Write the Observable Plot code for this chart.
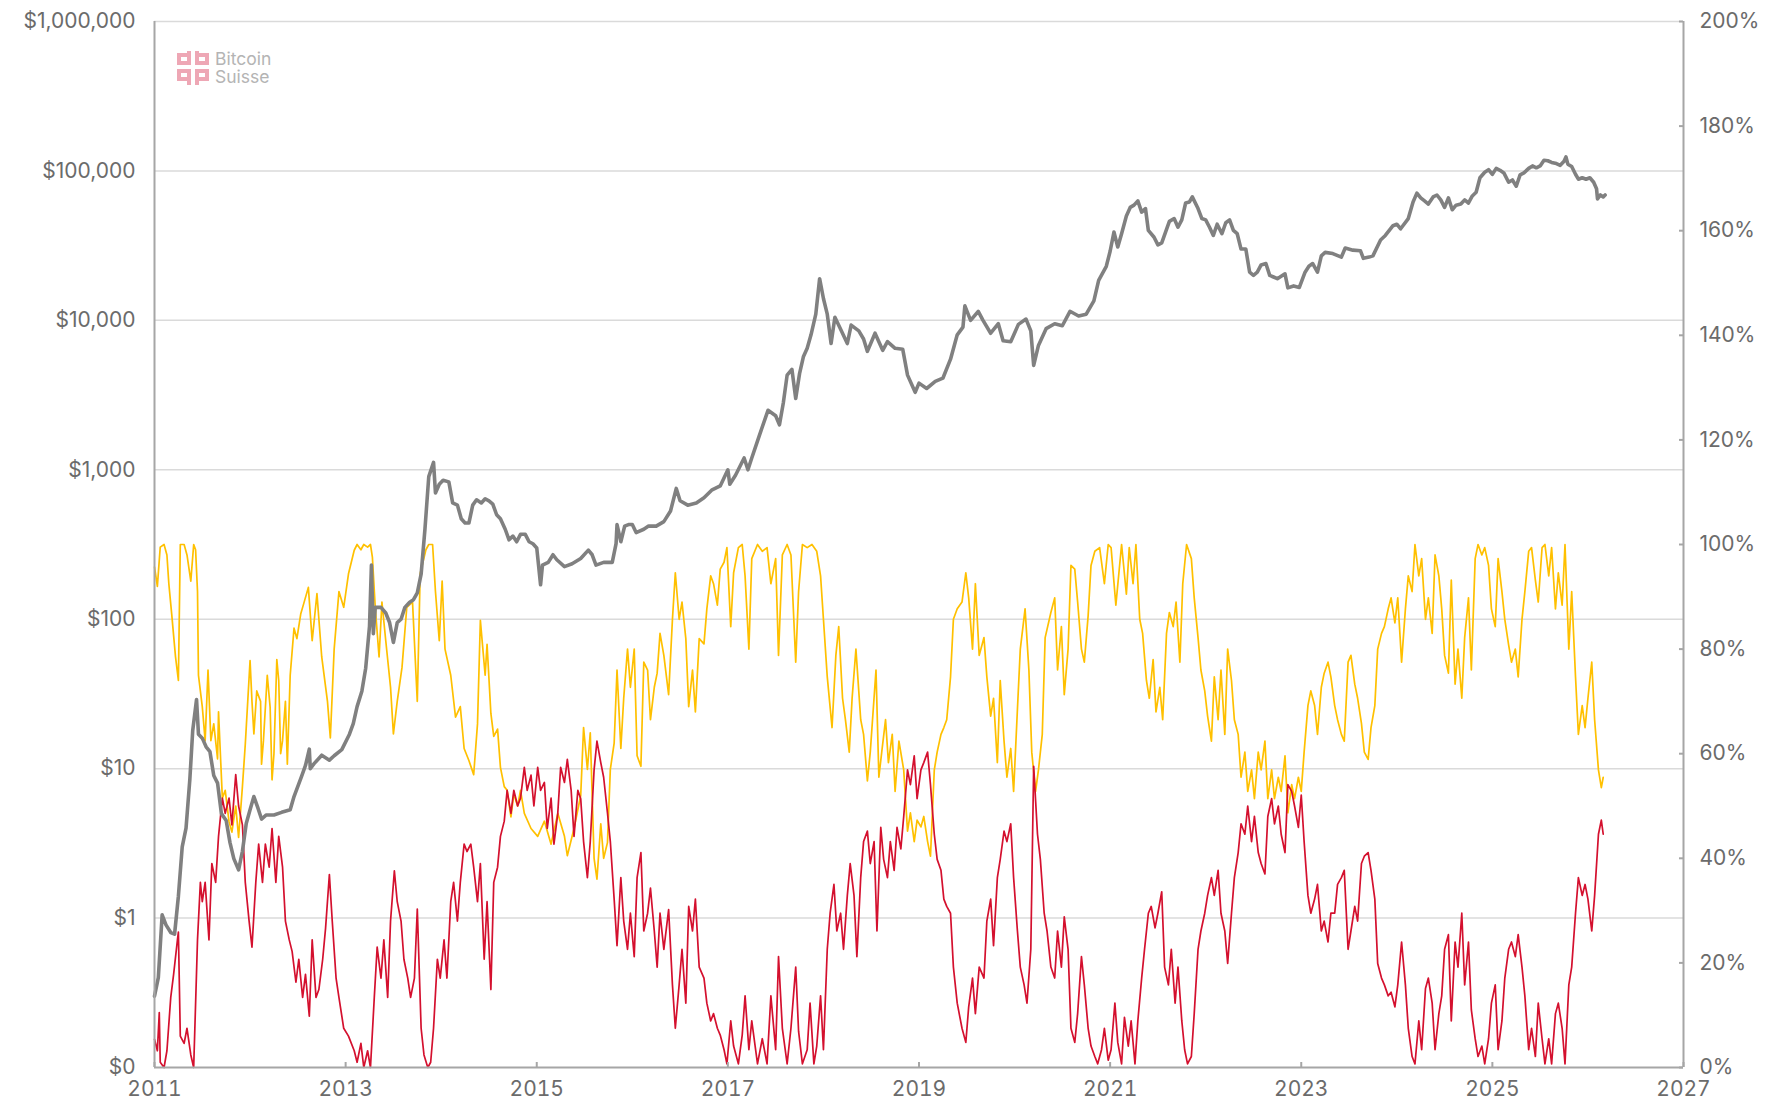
<!DOCTYPE html>
<html><head><meta charset="utf-8">
<script src="https://cdn.jsdelivr.net/npm/d3@7"></script>
<script src="https://cdn.jsdelivr.net/npm/@observablehq/plot@0.6"></script>
<style>
html,body{margin:0;padding:0;background:#fff;}
#wrap{position:relative;width:1787px;height:1101px;}
#logo{position:absolute;left:177px;top:50px;display:flex;align-items:center;gap:4px;font-family:Inter,"Noto Sans",sans-serif;color:#b4b4b4;font-size:17.5px;}
#logo .t div{height:18px;line-height:18px;}
</style></head><body>
<div id="wrap"><div id="chart"></div>
<div id="logo"><svg width="34" height="36" viewBox="0 0 34 36"><g fill="none" stroke="#eea7b5" stroke-width="4"><rect x="2" y="5" width="10" height="8"/><rect x="20" y="5" width="10" height="8"/><line x1="12" y1="1" x2="12" y2="13"/><line x1="20" y1="1" x2="20" y2="13"/><rect x="2" y="21" width="10" height="8"/><rect x="20" y="21" width="10" height="8"/><line x1="12" y1="21" x2="12" y2="35"/><line x1="20" y1="21" x2="20" y2="35"/></g></svg><div class="t"><div>Bitcoin</div><div>Suisse</div></div></div>
</div>
<script>
// ---- axis ticks ----
const yearTicks = [2011, 2013, 2015, 2017, 2019, 2021, 2023, 2025, 2027];
const priceTicks = [0.1, 1, 10, 100, 1000, 10000, 100000, 1000000];
const priceTickLabels = ["$0", "$1", "$10", "$100", "$1,000", "$10,000", "$100,000", "$1,000,000"];
const pctTicks = [0, 20, 40, 60, 80, 100, 120, 140, 160, 180, 200];

// ---- BTC price (USD, log axis) ----
const priceYears = [
2011.00,2011.04,2011.08,2011.12,2011.17,2011.21,2011.25,2011.29,2011.33,2011.37,2011.40,2011.44,2011.46,2011.50,2011.54,2011.58,2011.62,2011.66,2011.70,2011.75,2011.79,2011.83,2011.88,2011.92,2011.96,
2012.00,2012.04,2012.08,2012.12,2012.17,2012.25,2012.33,2012.42,2012.46,2012.54,2012.58,2012.62,2012.63,2012.67,2012.75,2012.83,2012.88,2012.96,
2013.04,2013.08,2013.12,2013.17,2013.21,2013.25,2013.27,2013.29,2013.31,2013.37,2013.42,2013.46,2013.50,2013.54,2013.58,2013.62,2013.67,2013.71,2013.75,2013.79,2013.83,2013.87,2013.92,2013.94,2013.98,
2014.02,2014.08,2014.12,2014.17,2014.21,2014.25,2014.29,2014.33,2014.37,2014.42,2014.46,2014.50,2014.54,2014.58,2014.62,2014.67,2014.71,2014.75,2014.79,2014.83,2014.88,2014.92,2014.96,
2015.00,2015.04,2015.06,2015.12,2015.17,2015.21,2015.29,2015.37,2015.46,2015.54,2015.58,2015.62,2015.70,2015.79,2015.83,2015.84,2015.88,2015.92,2015.96,
2016.00,2016.04,2016.12,2016.17,2016.25,2016.33,2016.40,2016.46,2016.50,2016.58,2016.67,2016.75,2016.83,2016.92,
2017.00,2017.02,2017.08,2017.17,2017.21,2017.25,2017.33,2017.42,2017.50,2017.54,2017.58,2017.62,2017.67,2017.71,2017.75,2017.79,2017.83,2017.87,2017.92,2017.96,
2018.00,2018.04,2018.08,2018.12,2018.17,2018.25,2018.29,2018.37,2018.42,2018.46,2018.54,2018.62,2018.67,2018.75,2018.83,2018.88,2018.96,
2019.00,2019.08,2019.17,2019.25,2019.33,2019.40,2019.46,2019.48,2019.54,2019.62,2019.67,2019.75,2019.83,2019.88,2019.96,
2020.04,2020.12,2020.17,2020.20,2020.25,2020.33,2020.42,2020.50,2020.58,2020.67,2020.75,2020.83,2020.88,2020.96,
2021.00,2021.04,2021.08,2021.12,2021.17,2021.21,2021.25,2021.29,2021.33,2021.37,2021.40,2021.46,2021.50,2021.54,2021.58,2021.62,2021.67,2021.71,2021.75,2021.79,2021.83,2021.86,2021.92,2021.96,
2022.00,2022.04,2022.08,2022.12,2022.17,2022.21,2022.25,2022.29,2022.33,2022.37,2022.42,2022.46,2022.50,2022.54,2022.58,2022.63,2022.67,2022.71,2022.75,2022.83,2022.86,2022.92,2022.98,
2023.04,2023.08,2023.12,2023.17,2023.21,2023.25,2023.33,2023.42,2023.46,2023.54,2023.62,2023.65,2023.71,2023.75,2023.83,2023.88,2023.96,
2024.00,2024.04,2024.12,2024.17,2024.21,2024.25,2024.29,2024.33,2024.38,2024.42,2024.46,2024.50,2024.54,2024.58,2024.62,2024.67,2024.71,2024.75,2024.79,2024.83,2024.87,2024.92,2024.96,
2025.00,2025.04,2025.08,2025.12,2025.17,2025.21,2025.25,2025.29,2025.33,2025.38,2025.42,2025.46,2025.50,2025.54,2025.58,2025.62,2025.67,2025.71,2025.75,2025.77,2025.79,2025.83,2025.87,2025.90,2025.94,2025.98,
2026.02,2026.06,2026.09,2026.10,2026.13,2026.16,2026.18];
const priceUSD = [
0.30,0.40,1.05,0.90,0.80,0.78,1.4,3.0,4.0,8.5,18,29,17,16,14,13,9,8,5,4.5,3.2,2.5,2.1,2.8,4.3,
5.3,6.5,5.5,4.6,4.9,4.9,5.1,5.3,6.5,8.9,10.5,13.5,10,10.8,12.3,11.4,12.2,13.4,
17,20,26,33,47,90,230,80,120,120,110,95,70,95,100,120,130,135,150,200,400,900,1120,700,800,
850,830,600,580,470,440,440,580,630,600,640,620,590,500,470,400,340,360,330,370,370,330,320,
300,170,230,240,270,250,225,235,255,290,270,230,240,240,320,430,330,420,430,
430,380,400,420,420,450,530,750,620,580,600,650,730,780,
1000,800,920,1200,1000,1200,1700,2500,2300,2000,2800,4300,4700,3000,4400,5700,6500,8000,11000,19000,
14000,11000,7000,10500,9000,7000,9300,8500,7500,6200,8200,6300,7200,6500,6400,4300,3300,
3800,3500,3900,4100,5500,8000,9000,12500,10000,11500,10000,8200,9500,7300,7200,
9400,10200,8500,5000,6800,8800,9500,9200,11500,10700,11000,13500,18500,23000,
29000,39000,31000,38000,50000,57000,59000,63000,53000,56000,40000,36000,32000,33000,39000,46000,48000,42000,47000,61000,62000,67000,56000,48000,
47000,42000,37000,44000,38000,45000,47000,40000,38000,30000,30000,21000,20000,21000,23500,24000,20000,19500,19000,20500,16500,17000,16600,
21000,23000,24000,21000,27000,28500,28000,26500,30500,29500,29200,26000,26500,27000,34500,37000,43000,
44000,41000,48000,62000,71000,66000,63000,60000,67000,69000,64000,57000,66000,55000,59000,60000,64000,61000,68000,72000,90000,98000,102000,
95000,104000,101000,97000,84000,87000,79000,94000,97000,104000,108000,105000,108000,118000,117000,114000,112000,109000,116000,124000,111000,107000,95000,88000,90000,88000,
90000,84000,76000,65000,69000,67000,69000];

// ---- yellow series (% , right axis) ----
const profitYears = [
2011.00,2011.03,2011.06,2011.10,2011.13,2011.15,2011.18,2011.22,2011.25,2011.27,2011.31,2011.34,2011.38,2011.41,2011.43,2011.45,2011.46,2011.50,2011.53,2011.56,2011.59,2011.62,2011.66,2011.67,2011.71,2011.74,2011.78,2011.81,2011.85,2011.88,2011.92,2011.95,
2012.00,2012.02,2012.04,2012.07,2012.11,2012.12,2012.14,2012.18,2012.21,2012.23,2012.25,2012.28,2012.30,2012.32,2012.34,2012.37,2012.39,2012.42,2012.46,2012.49,2012.53,2012.56,2012.61,2012.65,2012.70,2012.75,2012.81,2012.84,2012.88,2012.93,2012.98,
2013.03,2013.09,2013.12,2013.16,2013.19,2013.23,2013.26,2013.28,2013.31,2013.35,2013.38,2013.42,2013.47,2013.50,2013.54,2013.59,2013.64,2013.70,2013.75,2013.78,2013.84,2013.87,2013.91,2013.94,2013.98,
2014.01,2014.04,2014.10,2014.15,2014.20,2014.24,2014.29,2014.34,2014.38,2014.41,2014.46,2014.48,2014.52,2014.55,2014.59,2014.62,2014.66,2014.69,2014.73,2014.76,2014.80,2014.83,2014.87,2014.94,
2015.01,2015.08,2015.15,2015.22,2015.29,2015.32,2015.39,2015.46,2015.49,2015.53,2015.56,2015.60,2015.63,2015.67,2015.70,2015.74,2015.77,2015.81,2015.84,2015.88,2015.91,2015.95,2015.98,
2016.02,2016.05,2016.09,2016.12,2016.16,2016.19,2016.23,2016.26,2016.29,2016.33,2016.38,2016.42,2016.45,2016.49,2016.52,2016.56,2016.59,2016.63,2016.66,2016.70,2016.75,2016.78,2016.82,2016.85,2016.89,2016.92,2016.96,2016.99,
2017.03,2017.06,2017.11,2017.15,2017.18,2017.22,2017.25,2017.31,2017.36,2017.41,2017.45,2017.50,2017.53,2017.57,2017.62,2017.66,2017.71,2017.74,2017.78,2017.83,2017.88,2017.93,2017.97,
2018.00,2018.04,2018.09,2018.13,2018.16,2018.20,2018.23,2018.27,2018.30,2018.34,2018.39,2018.42,2018.46,2018.49,2018.55,2018.58,2018.61,2018.65,2018.68,2018.72,2018.75,2018.79,2018.84,2018.88,2018.91,2018.95,2018.98,
2019.02,2019.05,2019.09,2019.12,2019.16,2019.19,2019.23,2019.26,2019.29,2019.33,2019.36,2019.40,2019.45,2019.49,2019.52,2019.56,2019.59,2019.63,2019.68,2019.71,2019.75,2019.78,2019.82,2019.85,2019.89,2019.92,2019.96,2019.99,
2020.03,2020.06,2020.11,2020.15,2020.18,2020.22,2020.25,2020.29,2020.32,2020.38,2020.42,2020.45,2020.49,2020.52,2020.56,2020.59,2020.63,2020.66,2020.70,2020.73,2020.77,2020.80,2020.84,2020.89,2020.94,2020.98,
2021.01,2021.06,2021.12,2021.17,2021.20,2021.24,2021.27,2021.31,2021.34,2021.38,2021.41,2021.45,2021.48,2021.52,2021.55,2021.59,2021.62,2021.66,2021.69,2021.73,2021.76,2021.80,2021.85,2021.88,2021.92,2021.95,2021.99,
2022.02,2022.06,2022.09,2022.13,2022.16,2022.20,2022.23,2022.27,2022.30,2022.34,2022.37,2022.41,2022.44,2022.48,2022.51,2022.55,2022.58,2022.62,2022.65,2022.69,2022.72,2022.76,2022.79,2022.83,2022.86,2022.90,2022.93,2022.97,
2023.00,2023.03,2023.07,2023.10,2023.14,2023.17,2023.21,2023.24,2023.28,2023.31,2023.35,2023.38,2023.42,2023.45,2023.49,2023.52,2023.56,2023.59,2023.63,2023.66,2023.70,2023.73,2023.77,2023.80,2023.84,2023.87,2023.91,2023.94,2023.98,
2024.01,2024.05,2024.09,2024.12,2024.16,2024.19,2024.23,2024.26,2024.30,2024.33,2024.37,2024.40,2024.44,2024.47,2024.50,2024.54,2024.57,2024.61,2024.64,2024.68,2024.71,2024.75,2024.78,2024.82,2024.85,2024.89,2024.92,2024.96,2024.99,
2025.03,2025.06,2025.10,2025.13,2025.17,2025.20,2025.24,2025.27,2025.31,2025.34,2025.38,2025.41,2025.45,2025.48,2025.52,2025.55,2025.59,2025.62,2025.66,2025.69,2025.73,2025.76,2025.80,2025.83,2025.87,2025.90,2025.94,2025.97,
2026.00,2026.04,2026.07,2026.11,2026.14,2026.16];
const profitPct = [
95.7,92,99.5,100,98,92.5,86.7,78.5,74,100,100,98,93,100,99,91,75,69,62.5,76,62.5,65.7,59,68,51.5,53,47,45,50,44,53.7,61.8,
77.8,70,63.8,72,70,58,62.5,75,68.9,55,60,78,74,60,62.5,70,58,75,84,82,86.7,88.6,91.8,81.6,90.6,78.5,70,63,80,91,88,
94.4,98.9,100,99,100,99.5,100,97.6,88,78.5,89,81.6,72.7,63.8,70,76.5,88,89,70,94.4,99,100,100,91,81.6,
93,80,75,67,69,61,58.7,56,65.7,85.5,75,80.9,67.7,63.3,64.7,57.4,53.7,53,47.9,52.3,50,53,48.6,45.7,
44.2,47.1,42.7,48.6,44.2,40.5,45.7,52,65,57,64,40,36,46.6,40,43,57,62,76,61,70.6,80,72.7,
80,59.6,57.6,77.5,76,66.5,72.7,75.4,83,78.8,71.3,85.7,94.6,85.7,89,82,69,76,68,82,81,87.7,94,92.5,88.4,95.3,96.6,99.4,
84.3,94.6,99.4,100,94,80,97.3,100,98.7,99.4,92.5,97.3,78.8,98,100,98,77.5,91,100,99.4,100,98.7,94,
85.7,74.7,65,78.8,84.3,70.6,66.5,60.3,70.6,80,66.5,63.7,54.8,60.3,76,55.5,60.3,66.5,58.3,63.7,52.8,62.4,56.9,45.2,48.7,43.2,47.3,
46,48,43.2,40.4,56.9,60.3,63.7,65,66.5,74.7,85.7,87.7,89,94.6,89.8,80,92.5,78.8,82.2,74.7,67.2,70.6,58.3,74,62.4,55.5,61,52.8,
68.5,80,87.7,76,60.3,52.8,56.9,63.7,82.2,87,89.8,76,84.3,71.3,80,96,95.3,89,80,77.5,86.4,96,98.7,99.4,92.5,100,
99.4,88.4,100,90.5,99.4,92.5,100,85.7,83,74,70.6,78,68,72.7,66.5,83,87,84.3,89,77.5,92.5,100,97.3,89.8,82.2,76,72,
67.2,62.4,74.7,66.5,76,63.7,80,74,66.5,63.7,55.5,60.3,52.8,56.9,51.4,60.3,56.9,62.4,51.4,56.9,51.4,55.5,52.8,59.6,48.7,54.1,51.4,55.5,
52.8,60.3,69.2,72,69.2,63.7,72.7,75.4,77.5,74.7,69.2,66.5,63.7,62.4,77.5,78.8,73.3,70.6,65.8,60.3,58.9,65,69.2,80,83,84.3,87.7,89.8,85,
89.8,77.5,87.7,94,91,100,94,97.3,85.7,89.8,83,98,94,87.7,78.8,75.4,93.2,73.3,80,70.6,82.2,89.8,76,97.3,100,98,99.4,96,87.7,
84.3,97.3,91,85.7,80.8,77.5,80,74.7,85.7,91,98.7,99.4,93.2,89,99.4,100,94,99.4,87.7,94.6,88.4,100,80,91,74.7,63.7,69.2,65,
70.6,77.5,66.5,56.9,53.5,55.5];

// ---- red series (% , right axis) ----
const lossYears = [
2011.00,2011.03,2011.05,2011.06,2011.10,2011.13,2011.17,2011.20,2011.24,2011.25,2011.27,2011.31,2011.34,2011.38,2011.41,2011.45,2011.48,2011.50,2011.53,2011.57,2011.60,2011.64,2011.67,2011.71,2011.74,2011.78,2011.81,2011.85,2011.88,2011.92,2011.95,2011.99,
2012.02,2012.06,2012.09,2012.13,2012.16,2012.20,2012.23,2012.27,2012.30,2012.34,2012.37,2012.41,2012.44,2012.48,2012.51,2012.55,2012.58,2012.62,2012.65,2012.69,2012.72,2012.76,2012.79,2012.83,2012.86,2012.90,2012.93,2012.98,
2013.03,2013.09,2013.12,2013.16,2013.19,2013.23,2013.26,2013.30,2013.33,2013.37,2013.40,2013.44,2013.47,2013.51,2013.54,2013.58,2013.61,2013.65,2013.68,2013.72,2013.75,2013.79,2013.82,2013.86,2013.89,2013.92,2013.96,2013.99,
2014.03,2014.06,2014.10,2014.13,2014.17,2014.20,2014.24,2014.27,2014.31,2014.34,2014.38,2014.41,2014.45,2014.48,2014.52,2014.55,2014.59,2014.62,2014.66,2014.69,2014.73,2014.76,2014.80,2014.83,2014.87,2014.90,2014.94,2014.97,
2015.01,2015.04,2015.08,2015.11,2015.15,2015.18,2015.22,2015.25,2015.29,2015.32,2015.36,2015.39,2015.43,2015.46,2015.49,2015.53,2015.56,2015.60,2015.63,2015.67,2015.70,2015.74,2015.77,2015.81,2015.84,2015.88,2015.91,2015.95,2015.98,
2016.02,2016.05,2016.09,2016.12,2016.16,2016.19,2016.23,2016.26,2016.29,2016.33,2016.38,2016.42,2016.45,2016.49,2016.52,2016.56,2016.59,2016.63,2016.66,2016.70,2016.75,2016.78,2016.82,2016.85,2016.89,2016.92,2016.96,2016.99,
2017.03,2017.06,2017.11,2017.15,2017.18,2017.22,2017.25,2017.31,2017.36,2017.41,2017.45,2017.50,2017.53,2017.57,2017.62,2017.66,2017.71,2017.74,2017.78,2017.83,2017.86,2017.90,2017.93,2017.97,
2018.00,2018.04,2018.07,2018.11,2018.14,2018.18,2018.21,2018.25,2018.28,2018.32,2018.35,2018.39,2018.42,2018.46,2018.49,2018.53,2018.56,2018.60,2018.63,2018.67,2018.70,2018.74,2018.77,2018.81,2018.84,2018.88,2018.91,2018.95,2018.98,
2019.02,2019.05,2019.09,2019.12,2019.16,2019.19,2019.23,2019.26,2019.29,2019.33,2019.36,2019.40,2019.45,2019.49,2019.52,2019.56,2019.59,2019.63,2019.68,2019.71,2019.75,2019.78,2019.82,2019.85,2019.89,2019.92,2019.96,2019.99,
2020.03,2020.06,2020.10,2020.13,2020.17,2020.20,2020.24,2020.27,2020.31,2020.34,2020.38,2020.42,2020.45,2020.49,2020.52,2020.56,2020.59,2020.63,2020.66,2020.70,2020.73,2020.77,2020.80,2020.84,2020.87,2020.91,2020.94,2020.98,
2021.01,2021.05,2021.08,2021.12,2021.15,2021.19,2021.22,2021.26,2021.29,2021.33,2021.36,2021.40,2021.43,2021.47,2021.50,2021.54,2021.57,2021.61,2021.64,2021.68,2021.71,2021.75,2021.78,2021.81,2021.85,2021.88,2021.92,2021.95,2021.99,
2022.02,2022.06,2022.09,2022.13,2022.16,2022.20,2022.23,2022.27,2022.30,2022.34,2022.37,2022.41,2022.44,2022.48,2022.51,2022.55,2022.58,2022.62,2022.65,2022.69,2022.72,2022.76,2022.79,2022.83,2022.86,2022.90,2022.93,2022.97,
2023.00,2023.03,2023.07,2023.10,2023.14,2023.17,2023.21,2023.24,2023.28,2023.31,2023.35,2023.38,2023.42,2023.45,2023.49,2023.52,2023.56,2023.59,2023.63,2023.66,2023.70,2023.73,2023.77,2023.80,2023.84,2023.87,2023.91,2023.94,2023.98,
2024.01,2024.05,2024.09,2024.12,2024.16,2024.19,2024.23,2024.26,2024.30,2024.33,2024.37,2024.40,2024.44,2024.47,2024.50,2024.54,2024.57,2024.61,2024.64,2024.68,2024.71,2024.75,2024.78,2024.82,2024.85,2024.89,2024.92,2024.96,2024.99,
2025.03,2025.06,2025.10,2025.13,2025.17,2025.20,2025.24,2025.27,2025.31,2025.34,2025.38,2025.41,2025.45,2025.48,2025.52,2025.55,2025.59,2025.62,2025.66,2025.69,2025.73,2025.76,2025.80,2025.83,2025.87,2025.90,2025.94,2025.97,
2026.00,2026.04,2026.07,2026.11,2026.14,2026.16];
const lossPct = [
5.4,3.2,10.5,1,0,3.2,13.4,17.8,24.4,25.9,6,4.6,7.5,2.4,0,24.4,35.4,31.7,35.4,24.4,39,35.4,44.2,51.5,48.6,51.5,46.4,56,50,46.4,35.4,28,
23,35.4,42.7,35.4,42.7,38.3,45.7,35.4,44.2,38.3,28,24.4,22.2,16.3,20.7,13.4,17.8,9.8,24.4,13.4,14.9,20.7,26.6,36.9,28,17.1,13.4,7.5,
6,3.2,1,4.6,0,3.2,0,13.4,23,17.1,24.4,13.4,28,37.6,31.7,28,20.7,17.1,13.4,17.1,30.3,7.5,2.4,0,1,7.5,20.7,17.1,
24.4,17.1,31.7,35.4,28,35.4,42.7,41.3,42.7,38.3,31.7,39,20.7,31.7,14.9,35.4,38.3,44.2,47.1,53,48.6,53,50,51.5,57.4,53,55.9,50,
57.4,53,54.5,45.7,51.5,42.7,48.6,57.4,54.5,58.9,53,44.2,53,51.4,43.2,36.3,43.2,56.9,62.4,58.3,55.5,48.7,43.2,32.2,23.3,36.3,28,22.6,29.5,
21.2,36.3,41.1,26.1,29.5,34.3,26.1,19.2,29.5,22.6,30.2,15.8,7.5,15.8,22.6,12.3,30.8,26.1,32.2,19.2,17.1,12.3,8.9,10.3,7.5,6.2,3.4,0.7,
8.9,4.1,0.7,6.2,13.7,3.4,8.9,0.7,5.5,0.7,13.7,3.4,21.2,7.5,0.7,7.5,19.2,6.9,0.7,3.4,12.3,0.7,4.1,13.7,
3.4,22.6,29.5,35,26.1,29.5,22.6,32.9,39,32.9,21.2,36.3,43.2,45.2,39,43.2,26.1,45.9,39.8,36.3,43.2,37.7,45.9,41.8,48,56.9,54.1,59.6,51.4,
56.9,58.3,60.3,54.1,44.6,39.8,37.7,32.2,30.8,29.5,19.2,12.3,7.5,4.8,11.6,17.1,10.3,19.2,17.1,28,32.2,23.3,36.3,39.8,45.2,43.2,46.6,36.3,
26.1,19.2,15.8,12.3,22.6,57.6,44.6,39.8,29.5,26.1,19.2,17.1,26.1,19.2,28.8,22.6,7.5,4.8,10.3,21.2,15.8,7.5,4.1,2.1,0.7,3.4,7.5,1.4,
3.4,12.3,4.8,0.7,9.6,4.1,8.9,0.7,8.9,17.1,22.6,29.5,30.8,26.7,29.5,33.6,19.2,15.8,22.6,12.3,19.2,8.9,3.4,0.7,2.1,10.3,22.6,26.1,29.5,
32.9,36.3,32.9,37.7,29.5,26.1,19.9,29.5,36.3,41.1,46.6,44.6,50,43.2,48,41.1,39,37,48,51.4,46.6,50,44.6,41.1,54.1,52.8,50,45.9,
52.1,43.2,32.9,29.5,32.2,35,26.1,28,24,29.5,29.5,35,36.3,37.7,22.6,26.1,30.8,28,39,40.4,41.1,37.7,32.2,19.9,17.1,15.8,13.7,14.4,11.6,
15.8,24,15.8,7.5,2.1,0.7,8.9,3.4,15.1,17.1,12.3,3.4,10.3,13.7,22.6,25.4,8.9,24,19.2,29.5,15.8,24,11,5.5,2.1,4.1,0.7,5.5,12.3,
15.8,3.4,8.9,17.1,22.6,24,21.2,25.4,19.2,13.7,3.4,7.5,2.1,12.3,5.5,0.7,5.5,0.7,10.3,12.3,7.5,0.7,15.8,19.2,29.5,36.3,32.9,35,
32.2,26.1,32.9,44.6,47.3,44.6];

// ---- build tables ----
// right-axis percentages share the log y scale: 0% -> $0.1 (bottom), 200% -> $1,000,000 (top)
const yMin = priceTicks[0], yMax = priceTicks[priceTicks.length - 1];
const decades = Math.log10(yMax / yMin);
const pctToY = p => yMin * Math.pow(10, decades * p / 200);
const price = priceYears.map((t, i) => ({t, v: priceUSD[i]}));
const profit = profitYears.map((t, i) => ({t, v: pctToY(profitPct[i])}));
const loss = lossYears.map((t, i) => ({t, v: pctToY(lossPct[i])}));
const priceTable = priceTicks.map((v, i) => ({v, label: priceTickLabels[i]}));
const pctTable = pctTicks.map(p => ({v: pctToY(p), label: p + "%"}));

const W = 1787, H = 1101, mL = 154, mR = 104, tickLen = 4;
const axisColor = "#a6a6a6";
const textColor = "#6b6b6b";
const chart = Plot.plot({
  width: W, height: H,
  marginLeft: mL, marginRight: mR, marginTop: 21, marginBottom: 34,
  style: {fontFamily: "Inter, 'Noto Sans', sans-serif", fontSize: "21px", color: textColor, background: "#fff"},
  x: {domain: [yearTicks[0], yearTicks[yearTicks.length - 1]]},
  y: {type: "log", domain: [yMin, yMax], axis: null},
  marks: [
    Plot.gridY(priceTicks.slice(1), {stroke: "#dadada", strokeOpacity: 1, strokeWidth: 1.5}),
    Plot.lineY(profit, {x: "t", y: "v", stroke: "#FFC000", strokeWidth: 1.7}),
    Plot.lineY(loss, {x: "t", y: "v", stroke: "#D4102E", strokeWidth: 1.7}),
    Plot.lineY(price, {x: "t", y: "v", stroke: "#808080", strokeWidth: 3.6, strokeLinejoin: "round"}),
    Plot.ruleX([yearTicks[0]], {stroke: axisColor, strokeWidth: 2}),
    Plot.ruleX([yearTicks[yearTicks.length - 1]], {stroke: axisColor, strokeWidth: 2}),
    Plot.ruleY([yMin], {stroke: axisColor, strokeWidth: 2}),
    // left axis labels
    Plot.text(priceTable, {y: "v", text: "label", frameAnchor: "left", textAnchor: "end", dx: -19, fill: textColor}),
    // right axis: short inward ticks + labels
    Plot.tickY(pctTable, {y: "v", stroke: axisColor, strokeWidth: 2, insetLeft: W - mL - mR - tickLen}),
    Plot.text(pctTable, {y: "v", text: "label", frameAnchor: "right", textAnchor: "start", dx: 16, fill: textColor}),
    Plot.axisX(yearTicks, {anchor: "bottom", tickSize: -5, tickPadding: 19, stroke: axisColor, strokeWidth: 2, tickFormat: d => String(d), label: null})
  ]
});
document.getElementById("chart").appendChild(chart);
</script>
</body></html>
